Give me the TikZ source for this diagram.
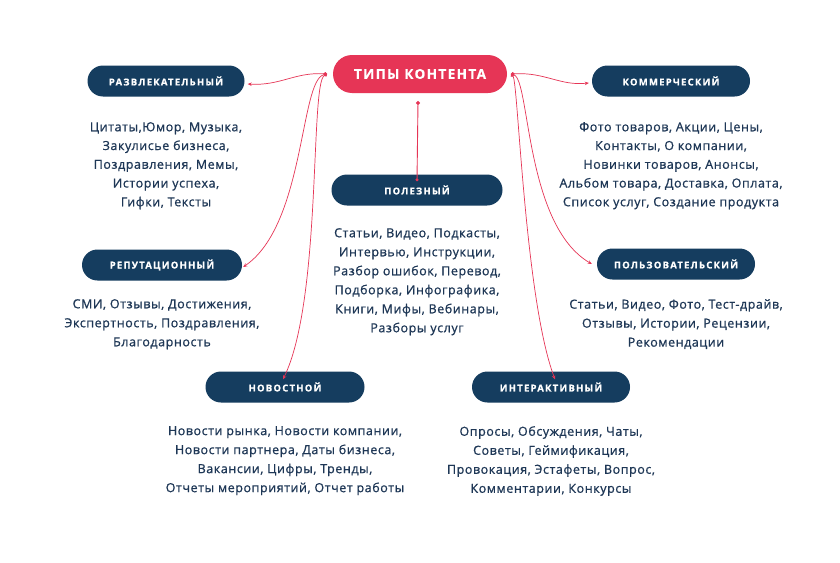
\documentclass[tikz,border=0pt]{standalone}
\usepackage{fontspec}
\setmainfont{Open Sans}
\newfontfamily\bodyfont[LetterSpace=4.5,FakeBold=0.8]{Open Sans}
\newfontfamily\labelfont[LetterSpace=13,FakeBold=0.8]{Open Sans}
\newfontfamily\mainlabelfont[LetterSpace=10.5,FakeBold=0.6]{Open Sans}
\usetikzlibrary{arrows.meta}
\definecolor{navy}{HTML}{153D5F}
\definecolor{crim}{HTML}{E63556}
\definecolor{txt}{HTML}{1E3756}
\tikzset{
  catbox/.style={fill=navy, rounded corners=15.5pt, minimum width=158pt, minimum height=31pt,
    inner sep=0pt, text=white, font=\labelfont\bfseries\fontsize{9.5}{9.5}\selectfont},
  mainbox/.style={fill=crim, rounded corners=19pt, minimum width=174pt, minimum height=38pt,
    inner sep=0pt, text=white, font=\mainlabelfont\bfseries\fontsize{13.5}{13.5}\selectfont},
  body/.style={align=center, inner sep=0pt, text=txt, anchor=north,
    font=\bodyfont\fontsize{12.5}{19}\selectfont},
  conn/.style={draw=crim, line width=0.7pt, {Circle[length=3.5pt]}-{Stealth[length=4pt,width=3.5pt]}},
}
\begin{document}
\begin{tikzpicture}[x=1pt,y=-1pt]
\useasboundingbox[fill=white] (0,0) rectangle (840,562);
\node[mainbox] (main) at (420,74) {ТИПЫ КОНТЕНТА};
\coordinate (L) at (327,74);
\coordinate (R) at (511,74);
\coordinate (T) at (418,101);

\node[catbox, minimum width=157pt] (ent) at (166,81) {РАЗВЛЕКАТЕЛЬНЫЙ};
\node[catbox] (com) at (671,81) {КОММЕРЧЕСКИЙ};
\node[catbox, minimum width=171pt] (use) at (417,190) {ПОЛЕЗНЫЙ};
\node[catbox, minimum width=160pt] (rep) at (162,265) {РЕПУТАЦИОННЫЙ};
\node[catbox] (usr) at (676,264) {ПОЛЬЗОВАТЕЛЬСКИЙ};
\node[catbox, minimum width=159pt] (news) at (285,387) {НОВОСТНОЙ};
\node[catbox] (int) at (551,387) {ИНТЕРАКТИВНЫЙ};

\node[body, font=\bodyfont\fontsize{12.5}{18.75}\selectfont] (entT) at (166,122) {Цитаты,Юмор, Музыка,\\Закулисье бизнеса,\\Поздравления, Мемы,\\Истории успеха,\\Гифки, Тексты};
\node[body, font=\bodyfont\fontsize{12.5}{18.75}\selectfont] (comT) at (671,122) {Фото товаров, Акции, Цены,\\Контакты, О компании,\\Новинки товаров, Анонсы,\\Альбом товара, Доставка, Оплата,\\Список услуг, Создание продукта};
\node[body] (useT) at (417,228) {Статьи, Видео, Подкасты,\\Интервью, Инструкции,\\Разбор ошибок, Перевод,\\Подборка, Инфографика,\\Книги, Мифы, Вебинары,\\Разборы услуг};
\node[body] (repT) at (162,299) {СМИ, Отзывы, Достижения,\\Экспертность, Поздравления,\\Благодарность};
\node[body] (usrT) at (676,299) {Статьи, Видео, Фото, Тест-драйв,\\Отзывы, Истории, Рецензии,\\Рекомендации};
\node[body] (newsT) at (285,426) {Новости рынка, Новости компании,\\Новости партнера, Даты бизнеса,\\Вакансии, Цифры, Тренды,\\Отчеты мероприятий, Отчет работы};
\node[body] (intT) at (551,426) {Опросы, Обсуждения, Чаты,\\Советы, Геймификация,\\Провокация, Эстафеты, Вопрос,\\Комментарии, Конкурсы};

\draw[conn] (L) .. controls (295,72) and (280,86) .. ([xshift=3pt,yshift=-3pt]ent.east);
\draw[conn] (L) .. controls (300,80) and (305,225) .. ([xshift=1pt,yshift=-2pt]rep.east);
\draw[conn] (L) .. controls (310,84) and (322,300) .. ([xshift=-2pt,yshift=-8pt]news.north);
\draw[conn] (R) .. controls (545,72) and (560,86) .. ([xshift=-3pt,yshift=-2pt]com.west);
\draw[conn] (R) .. controls (530,80) and (525,225) .. ([xshift=-5pt]usr.west);
\draw[conn] (R) .. controls (518,82) and (525,300) .. ([xshift=4pt,yshift=-8pt]int.north);
\draw[draw=crim, line width=0.9pt, {Circle[length=4pt]}-{Circle[length=3pt]}] (T) -- ([yshift=-7pt]use.north);
\end{tikzpicture}
\end{document}
